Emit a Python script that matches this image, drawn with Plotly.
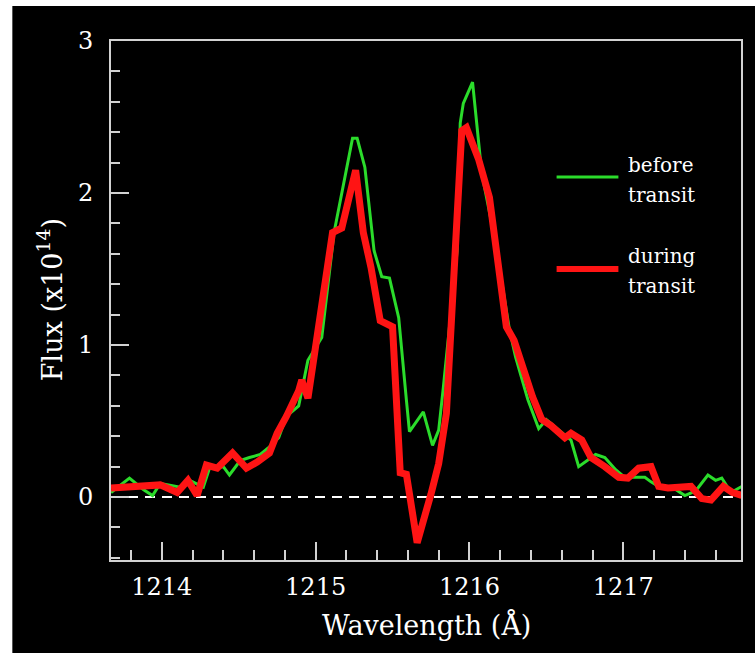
import plotly.graph_objects as go

# ---- data ----
before_wl = [1213.67, 1213.79, 1213.88, 1213.94, 1213.99, 1214.12, 1214.18, 1214.27, 1214.31,
             1214.40, 1214.44, 1214.51, 1214.57, 1214.64, 1214.70, 1214.76, 1214.81, 1214.89,
             1214.95, 1214.98, 1215.04, 1215.12, 1215.24, 1215.27, 1215.32, 1215.38, 1215.43,
             1215.48, 1215.54, 1215.59, 1215.61, 1215.70, 1215.76, 1215.80, 1215.83, 1215.92,
             1215.94, 1215.96, 1216.02, 1216.08, 1216.17, 1216.26, 1216.30, 1216.38, 1216.45,
             1216.50, 1216.58, 1216.66, 1216.71, 1216.82, 1216.88, 1216.95, 1217.01, 1217.08,
             1217.14, 1217.18, 1217.23, 1217.31, 1217.40, 1217.47, 1217.55, 1217.60, 1217.64,
             1217.70, 1217.77]
before_flux = [0.03, 0.125, 0.05, 0.01, 0.09, 0.065, 0.11, 0.065, 0.19,
               0.20, 0.145, 0.24, 0.26, 0.28, 0.33, 0.39, 0.53, 0.60,
               0.90, 0.95, 1.05, 1.74, 2.36, 2.36, 2.17, 1.62, 1.45,
               1.44, 1.18, 0.64, 0.43, 0.56, 0.34, 0.44, 0.72, 1.62,
               2.46, 2.59, 2.73, 2.13, 1.67, 1.10, 0.92, 0.64, 0.45,
               0.51, 0.44, 0.375, 0.20, 0.28, 0.26, 0.18, 0.13, 0.13,
               0.13, 0.10, 0.07, 0.07, 0.01, 0.04, 0.145, 0.11, 0.125,
               0.03, 0.07]

during_wl = [1213.67, 1213.88, 1213.99, 1214.10, 1214.17, 1214.23, 1214.29, 1214.36, 1214.46,
             1214.55, 1214.62, 1214.70, 1214.75, 1214.81, 1214.89, 1214.91, 1214.95, 1215.11,
             1215.17, 1215.26, 1215.31, 1215.36, 1215.42, 1215.50, 1215.53, 1215.55, 1215.59,
             1215.66, 1215.75, 1215.80, 1215.85, 1215.87, 1215.91, 1215.95, 1215.98, 1216.06,
             1216.13, 1216.19, 1216.24, 1216.29, 1216.37, 1216.41, 1216.47, 1216.53, 1216.62,
             1216.66, 1216.73, 1216.79, 1216.88, 1216.97, 1217.03, 1217.10, 1217.18, 1217.23,
             1217.29, 1217.38, 1217.44, 1217.51, 1217.57, 1217.65, 1217.71, 1217.77]
during_flux = [0.06, 0.07, 0.08, 0.03, 0.11, 0.01, 0.21, 0.19, 0.29,
               0.19, 0.23, 0.29, 0.42, 0.53, 0.70, 0.77, 0.65, 1.74,
               1.77, 2.15, 1.74, 1.51, 1.16, 1.12, 0.64, 0.16, 0.15,
               -0.30, 0.02, 0.22, 0.55, 0.97, 1.62, 2.41, 2.43, 2.22,
               1.97, 1.51, 1.12, 1.03, 0.77, 0.66, 0.51, 0.47, 0.39,
               0.42, 0.375, 0.26, 0.20, 0.13, 0.125, 0.19, 0.20, 0.07,
               0.06, 0.06, 0.07, -0.01, -0.02, 0.07, 0.03, 0.01]

x_ticks = [1214, 1215, 1216, 1217]
y_ticks = [0, 1, 2, 3]
legend_labels = [["before", "transit"], ["during", "transit"]]

GREEN = "#2bdc2b"
RED = "#ff1414"
AX = "#d2d2d2"
FONT = "DejaVu Serif"

fig = go.Figure()
fig.add_trace(go.Scatter(x=before_wl, y=before_flux, mode="lines",
                         line=dict(color=GREEN, width=3), hoverinfo="skip"))
fig.add_trace(go.Scatter(x=during_wl, y=during_flux, mode="lines",
                         line=dict(color=RED, width=7), hoverinfo="skip"))

axis_common = dict(showline=True, mirror=True, linecolor=AX, linewidth=2,
                   ticks="inside", tickcolor=AX, tickwidth=2, ticklen=18,
                   showgrid=False, zeroline=False,
                   tickfont=dict(family=FONT, size=24, color="white"))

fig.update_xaxes(range=[1213.67, 1217.765], tickvals=x_ticks,
                 minor=dict(dtick=0.2, tick0=1214, ticks="inside", ticklen=10,
                            tickcolor=AX, tickwidth=2, showgrid=False),
                 ticklabelstandoff=4, **axis_common)
fig.update_yaxes(range=[-0.414, 3.0], tickvals=y_ticks,
                 minor=dict(dtick=0.2, tick0=0, ticks="inside", ticklen=9,
                            tickcolor=AX, tickwidth=2, showgrid=False),
                 ticklabelstandoff=11, **axis_common)

annotations = [
    dict(text="Wavelength (Å)", x=0.5, y=-0.126, xref="paper", yref="paper",
         showarrow=False, xanchor="center", yanchor="middle",
         font=dict(family=FONT, size=27, color="white")),
    dict(text="Flux (x10<sup>14</sup>)", x=-0.0965, y=0.501, xref="paper", yref="paper",
         showarrow=False, xanchor="center", yanchor="middle", textangle=-90,
         font=dict(family=FONT, size=27, color="white")),
]
label_y = [[0.761, 0.7033], [0.5857, 0.528]]
for pair, ys in zip(legend_labels, label_y):
    for txt, yy in zip(pair, ys):
        annotations.append(dict(text=txt, x=0.818, y=yy, xref="paper", yref="paper",
                                showarrow=False, xanchor="left", yanchor="middle",
                                font=dict(family=FONT, size=20, color="white")))

shapes = [
    # dashed zero line
    dict(type="line", xref="paper", yref="y", x0=0, x1=1, y0=0, y1=0,
         line=dict(color="white", width=2, dash="10px,7px"), layer="below"),
    # legend keys
    dict(type="line", xref="paper", yref="paper", x0=0.7073, x1=0.8054, y0=0.738, y1=0.738,
         line=dict(color=GREEN, width=3), layer="above"),
    dict(type="line", xref="paper", yref="paper", x0=0.7073, x1=0.8054, y0=0.5607, y1=0.5607,
         line=dict(color=RED, width=6), layer="above"),
    # white page margins at the top and left of the reference
    dict(type="rect", xref="paper", yref="paper", x0=-0.19, x1=1.03, y0=1.0674, y1=1.09,
         fillcolor="white", line=dict(width=0), layer="above"),
    dict(type="rect", xref="paper", yref="paper", x0=-0.19, x1=-0.1566, y0=-0.19, y1=1.09,
         fillcolor="white", line=dict(width=0), layer="above"),
]

fig.update_layout(width=755, height=653, margin=dict(l=111, r=12, t=41, b=93),
                  paper_bgcolor="black", plot_bgcolor="black", showlegend=False,
                  annotations=annotations, shapes=shapes)

fig.write_html("out.html")
